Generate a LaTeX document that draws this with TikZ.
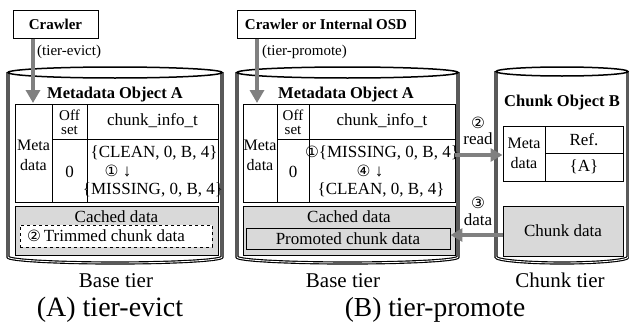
\documentclass[tikz,border=0pt]{standalone}
\usepackage{fontspec}
\setmainfont{Liberation Serif}
\newfontfamily\symfont{DejaVu Sans}
\newcommand\cnum[1]{{\symfont\fontsize{15.5}{15.5}\selectfont #1}}
\usetikzlibrary{arrows.meta}
\definecolor{arrowgray}{HTML}{808080}
\definecolor{boxgray}{HTML}{D9D9D9}
\begin{document}
\begin{tikzpicture}[x=1pt,y=-1pt,
  t/.style={inner sep=0pt,font=\fontsize{17}{19}\selectfont},
  tb/.style={inner sep=0pt,font=\fontsize{16.5}{19}\selectfont\bfseries},
  lab/.style={inner sep=0pt,font=\fontsize{15}{17}\selectfont},
  box/.style={draw,line width=1pt,inner sep=0pt,fill=white},
  graybox/.style={draw,line width=0.9pt,inner sep=0pt,fill=boxgray},
  garrow/.style={draw=arrowgray,line width=4.5pt,-{Triangle[length=13pt,width=14pt]},fill=arrowgray},
  harrow/.style={draw=arrowgray,line width=4pt,-{Triangle[length=12pt,width=13pt]},fill=arrowgray},
  wallout/.style={line width=3.2pt,black},
  wallin/.style={line width=0.9pt,white},
  rim/.style={line width=1.5pt,black,fill=white},
  tline/.style={line width=0.9pt}
]
\useasboundingbox (0,0) rectangle (629,324);

% ---------------- cylinders ----------------
% left
\draw[wallout] (8,72) -- (8,257) .. controls (8,260.3) and (55.9,263) .. (115,263) .. controls (174.1,263) and (222,260.3) .. (222,257) -- (222,72);
\draw[wallin] (8,72) -- (8,257) .. controls (8,260.3) and (55.9,263) .. (115,263) .. controls (174.1,263) and (222,260.3) .. (222,257) -- (222,72);
\draw[rim] (115,72.5) ellipse [x radius=107, y radius=5.5];
% middle
\draw[wallout] (237,72) -- (237,257) .. controls (237,260.3) and (286.5,263) .. (347.5,263) .. controls (408.5,263) and (458,260.3) .. (458,257) -- (458,72);
\draw[wallin] (237,72) -- (237,257) .. controls (237,260.3) and (286.5,263) .. (347.5,263) .. controls (408.5,263) and (458,260.3) .. (458,257) -- (458,72);
\draw[rim] (347.5,72.5) ellipse [x radius=110.5, y radius=5.5];
% right
\draw[wallout] (496,71) -- (496,257) .. controls (496,260.3) and (525.6,263) .. (562,263) .. controls (598.4,263) and (628,260.3) .. (628,257) -- (628,71);
\draw[wallin] (496,71) -- (496,257) .. controls (496,260.3) and (525.6,263) .. (562,263) .. controls (598.4,263) and (628,260.3) .. (628,257) -- (628,71);
\draw[rim] (562,71.5) ellipse [x radius=66, y radius=4.5];

% ---------------- (A) tier-evict ----------------
\node[box,minimum width=85pt,minimum height=28pt] (crawA) at (55.5,24) {\fontsize{15}{17}\selectfont\bfseries Crawler};
\coordinate (endA) at (33,103);
\draw[garrow] (crawA.south -| endA) -- (endA);
\node[lab,anchor=west] (labA) at (37,52) {(tier-evict)};
\node[tb] (titA) at (115,95) {Metadata Object A};

\node[box,minimum width=203pt,minimum height=98pt] (tabA) at (116.5,153) {};
\draw[tline] (52,104) -- (52,202);
\draw[tline] (87,104) -- (87,202);
\draw[tline] (52,139) -- (218,139);
\node[t,align=center,font=\fontsize{16}{20}\selectfont] (mdA) at (33.5,155) {Meta\\data};
\node[t,align=center,font=\fontsize{15}{14}\selectfont] (offA) at (69.5,122) {Off\\set};
\node[t] (ciA) at (152.5,121) {chunk\_info\_t};
\node[t] (zA) at (69.5,172) {0};
\node[t] (l1A) at (154,153) {\{CLEAN, 0, B, 4\}};
\node[t] (l2A) at (118,171) {\cnum{①} ↓};
\node[t] (l3A) at (153,190) {\{MISSING, 0, B, 4\}};

\node[graybox,minimum width=203pt,minimum height=49pt] (cacheA) at (116.5,230.5) {};
\node[t] (cdA) at (116.5,217) {Cached data};
\node[draw,dashed,line width=0.9pt,fill=white,minimum width=192pt,minimum height=22pt,inner sep=0pt] (trimA) at (116,236) {};
\node[t] at (106,236) {\cnum{②}\,Trimmed chunk data};

\node[inner sep=0pt,font=\fontsize{21}{23}\selectfont] (baseA) at (116,281) {Base tier};
\node[inner sep=0pt,font=\fontsize{28}{30}\selectfont] (capA) at (110,310) {(A) tier-evict};

% ---------------- (B) tier-promote ----------------
\node[box,minimum width=178pt,minimum height=28pt] (crawB) at (326,24) {\fontsize{15}{17}\selectfont\bfseries Crawler or Internal OSD};
\coordinate (endB) at (257,103);
\draw[garrow] (crawB.south -| endB) -- (endB);
\node[lab,anchor=west] (labB) at (262,52) {(tier-promote)};
\node[tb] (titB) at (346,95) {Metadata Object A};

\node[box,minimum width=212pt,minimum height=98pt] (tabB) at (349,153) {};
\draw[tline] (277,104) -- (277,202);
\draw[tline] (309,104) -- (309,202);
\draw[tline] (277,139) -- (455,139);
\node[t,align=center,font=\fontsize{16}{20}\selectfont] (mdB) at (260,155) {Meta\\data};
\node[t,align=center,font=\fontsize{15}{14}\selectfont] (offB) at (293,122) {Off\\set};
\node[t] (ciB) at (382,121) {chunk\_info\_t};
\node[t] (zB) at (293,172) {0};
\node[t] (l1B) at (382,153) {\cnum{①}\{MISSING, 0, B, 4\}};
\node[t] (l2B) at (370,171) {\cnum{④} ↓};
\node[t] (l3B) at (381,190) {\{CLEAN, 0, B, 4\}};

\node[graybox,minimum width=212pt,minimum height=49pt] (cacheB) at (349,230.5) {};
\node[t] (cdB) at (349,217) {Cached data};
\node[graybox,minimum width=204pt,minimum height=21pt] (promB) at (348,238.5) {};
\node[t] at (348,238.5) {Promoted chunk data};

\node[inner sep=0pt,font=\fontsize{21}{23}\selectfont] (baseB) at (343,281) {Base tier};
\node[inner sep=0pt,font=\fontsize{27.5}{30}\selectfont] (capB) at (435,310) {(B) tier-promote};

% chunk object
\node[tb] (titC) at (562,103) {Chunk Object B};
\node[box,minimum width=120pt,minimum height=55pt] (tabC) at (563,153.5) {};
\draw[tline] (545,126) -- (545,181);
\draw[tline] (545,153) -- (623,153);
\node[t,align=center,font=\fontsize{16}{20}\selectfont] (mdC) at (524,153) {Meta\\data};
\node[t] (refC) at (584,139.5) {Ref.};
\node[t] (aC) at (584,167) {\{A\}};
\node[graybox,minimum width=120pt,minimum height=50pt] (chunkC) at (563,231) {};
\node[t] at (563,231) {Chunk data};
\node[inner sep=0pt,font=\fontsize{21}{23}\selectfont] (tierC) at (560,280) {Chunk tier};

% arrows between tiers
\coordinate (r1) at (455,155);
\draw[harrow] (r1) -- (r1 -| tabC.west);
\node[t] at (478,123) {\cnum{②}};
\node[t] at (478,139) {read};
\coordinate (d1) at (503,235);
\draw[harrow] (d1) -- (d1 -| promB.east);
\node[t] at (478,203) {\cnum{③}};
\node[t] at (478,220) {data};
\end{tikzpicture}
\end{document}
